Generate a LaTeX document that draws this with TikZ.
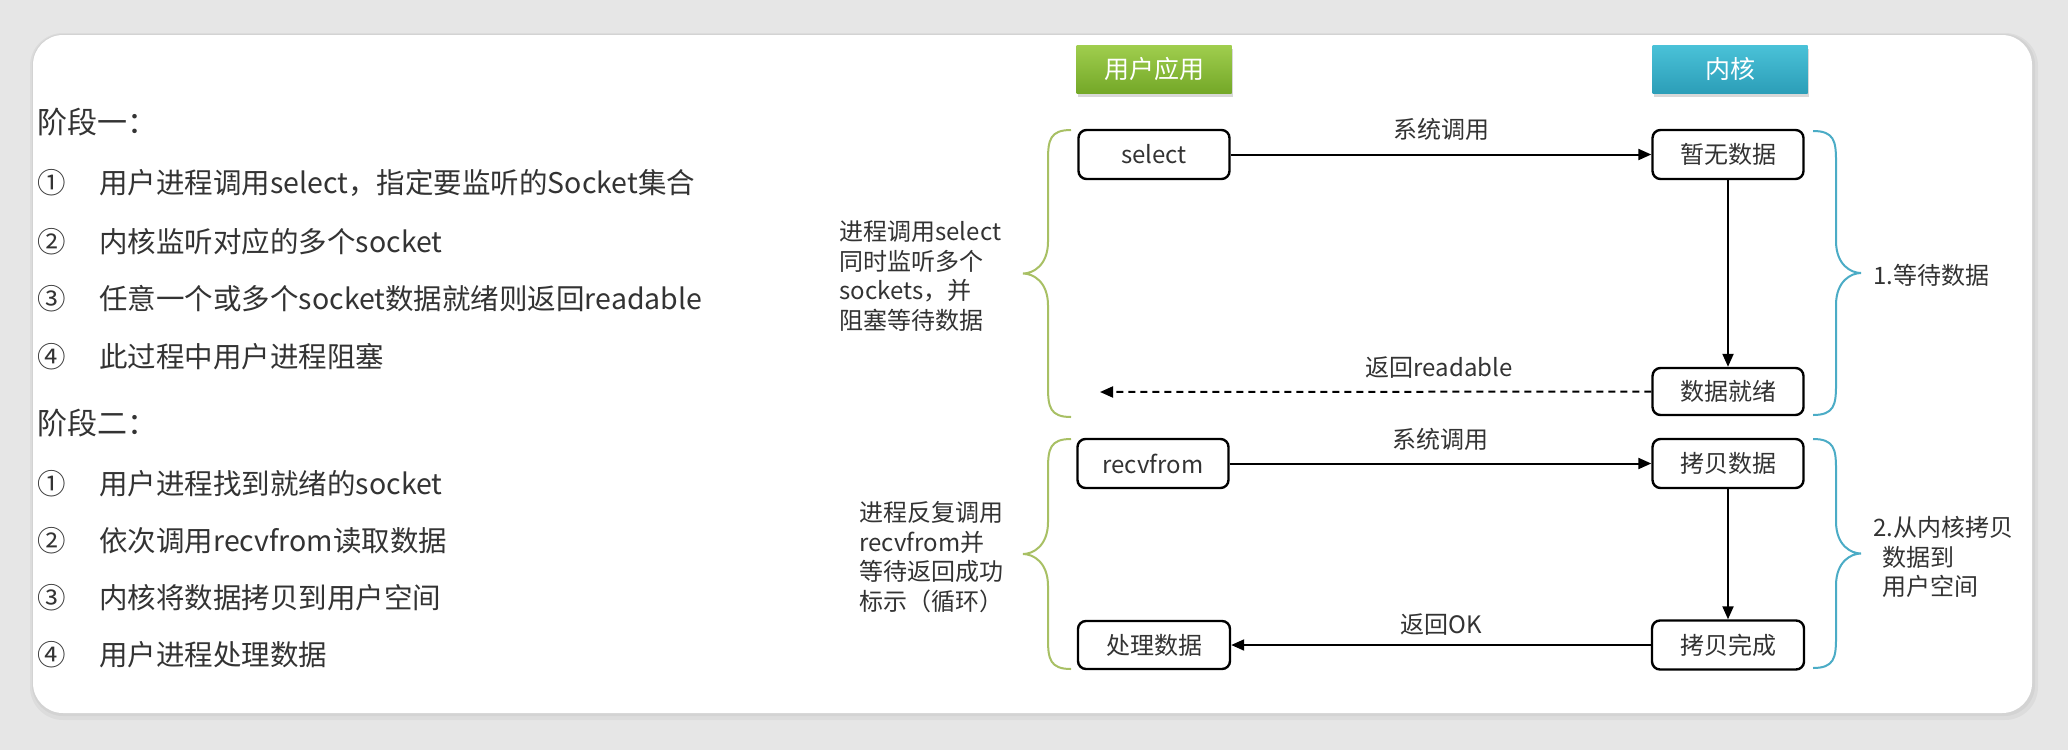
\documentclass[tikz,border=0pt]{standalone}
\usepackage{fontspec}
\setmainfont{Noto Sans CJK SC}
\usetikzlibrary{arrows.meta}
\usetikzlibrary{shadows}
\usetikzlibrary{positioning}

\definecolor{inkgray}{RGB}{51,51,51}
\definecolor{pagegray}{RGB}{230,230,230}
\definecolor{appgreentop}{RGB}{160,206,78}
\definecolor{appgreenbot}{RGB}{116,168,40}
\definecolor{kerntealtop}{RGB}{74,194,216}
\definecolor{kerntealbot}{RGB}{44,158,184}
\definecolor{bracegreen}{RGB}{168,192,100}
\definecolor{braceteal}{RGB}{75,172,198}

% curly brace: style, x of the ends, top y, bottom y, side (-1 left, 1 right)
\newcommand{\curlybrace}[5]{%
  \draw[#1] (#2,#3) .. controls ({#2+(#5)*21},#3) and ({#2+(#5)*23},{#3+10}) .. ({#2+(#5)*23},{#3+30})
    -- ({#2+(#5)*23},{(#3+#4)/2-32}) .. controls ({#2+(#5)*23},{(#3+#4)/2-8}) and ({#2+(#5)*38},{(#3+#4)/2}) .. ({#2+(#5)*48},{(#3+#4)/2})
    .. controls ({#2+(#5)*38},{(#3+#4)/2}) and ({#2+(#5)*23},{(#3+#4)/2+8}) .. ({#2+(#5)*23},{(#3+#4)/2+32})
    -- ({#2+(#5)*23},{#4-30}) .. controls ({#2+(#5)*23},{#4-10}) and ({#2+(#5)*21},#4) .. (#2,#4);}

\begin{document}
\begin{tikzpicture}[x=1pt,y=-1pt,thick,
	box/.style={draw,line width=2.4pt,rounded corners=8pt,minimum width=151pt,minimum height=49pt,inner sep=0pt,text=inkgray,font=\fontsize{24}{28}\selectfont},
	head/.style={minimum width=155pt,minimum height=48pt,inner sep=0pt,text=white,font=\fontsize{25}{30}\selectfont,drop shadow={opacity=0.3,shadow xshift=1pt,shadow yshift=-4pt}},
	label/.style={inner sep=0pt,text=inkgray,font=\fontsize{24}{28}\selectfont},
	note/.style={inner sep=0pt,anchor=west,align=left,text=inkgray,font=\fontsize{24}{29.5}\selectfont},
	stage/.style={inner sep=0pt,anchor=west,text=inkgray,font=\fontsize{30}{36}\selectfont},
	num/.style={inner sep=0pt,anchor=west,text=inkgray,font=\fontsize{28.5}{34}\selectfont},
	item/.style={inner sep=0pt,anchor=west,text=inkgray,font=\fontsize{28.5}{34}\selectfont},
	flow/.style={line width=2pt,-{Triangle[length=13pt,width=11pt]}}]
	\useasboundingbox (0,0) rectangle (2068,750);
	% page and card
	\fill[pagegray] (0,0) rectangle (2068,750);
	\fill[black,opacity=0.04,rounded corners=33pt] (30,33) rectangle (2038,720);
	\fill[black,opacity=0.04,rounded corners=31pt] (32,34) rectangle (2035,716);
	\fill[white,rounded corners=30pt] (33,35) rectangle (2032,713);

	% left text
	\node[stage] (stageA) at (37,122) {阶段一：};
	\foreach \n/\y/\t [count=\i] in {①/183/用户进程调用select，指定要监听的Socket集合,②/242/内核监听对应的多个socket,③/299/任意一个或多个socket数据就绪则返回readable,④/357/此过程中用户进程阻塞}{
		\node[num] (numA\i) at (37,\y) {\n};
		\node[item] (itemA\i) at (99,\y) {\t};
	}
	\node[stage] (stageB) at (37,423) {阶段二：};
	\foreach \n/\y/\t [count=\i] in {①/484/用户进程找到就绪的socket,②/541/依次调用recvfrom读取数据,③/598/内核将数据拷贝到用户空间,④/655/用户进程处理数据}{
		\node[num] (numB\i) at (37,\y) {\n};
		\node[item] (itemB\i) at (99,\y) {\t};
	}

	% headers
	\node[head,top color=appgreentop,bottom color=appgreenbot] (app) at (1154,69) {用户应用};
	\node[head,top color=kerntealtop,bottom color=kerntealbot] (kern) at (1730,69) {内核};

	% boxes
	\node[box] (sel) at (1154,154.5) {select};
	\node[box] (nodata) at (1728,154.5) {暂无数据};
	\node[box,minimum height=47pt] (ready) at (1728,391.5) {数据就绪};
	\node[box] (recv) at (1153,463.5) {recvfrom};
	\node[box] (copy) at (1728,463.5) {拷贝数据};
	\node[box,minimum width=152pt] (done) at (1728,645) {拷贝完成};
	\node[box,minimum width=152pt,minimum height=48pt] (proc) at (1154,645) {处理数据};
	\coordinate (readyend) at (1100,392);

	\path[flow]
	(sel)	edge	node[label,above=13pt]{系统调用}	(nodata)
	(nodata)	edge	(ready)
	(ready)	edge [dashed,dash pattern=on 7pt off 5pt]	node[label,pos=0.385,above=12pt]{返回readable}	(readyend)
	(recv)	edge	node[label,above=12pt]{系统调用}	(copy)
	(copy)	edge	(done)
	(done)	edge	node[label,above=9pt]{返回OK}	(proc);

	% braces and notes
	\curlybrace{bracegreen,line width=2pt}{1071}{130}{417}{-1}
	\curlybrace{bracegreen,line width=2pt}{1071}{439}{669}{-1}
	\curlybrace{braceteal,line width=2pt}{1813}{131}{415}{1}
	\curlybrace{braceteal,line width=2pt}{1813}{439}{668}{1}
	\node[note] (noteA) at (839,276) {进程调用select\\同时监听多个\\sockets，并\\阻塞等待数据};
	\node[note] (noteB) at (859,557) {进程反复调用\\recvfrom并\\等待返回成功\\标示（循环）};
	\node[note] (stepA) at (1873,275) {1.等待数据};
	\node[note] (stepB) at (1873,557) {2.从内核拷贝\\\hspace{9pt}数据到\\\hspace{9pt}用户空间};
\end{tikzpicture}
\end{document}
